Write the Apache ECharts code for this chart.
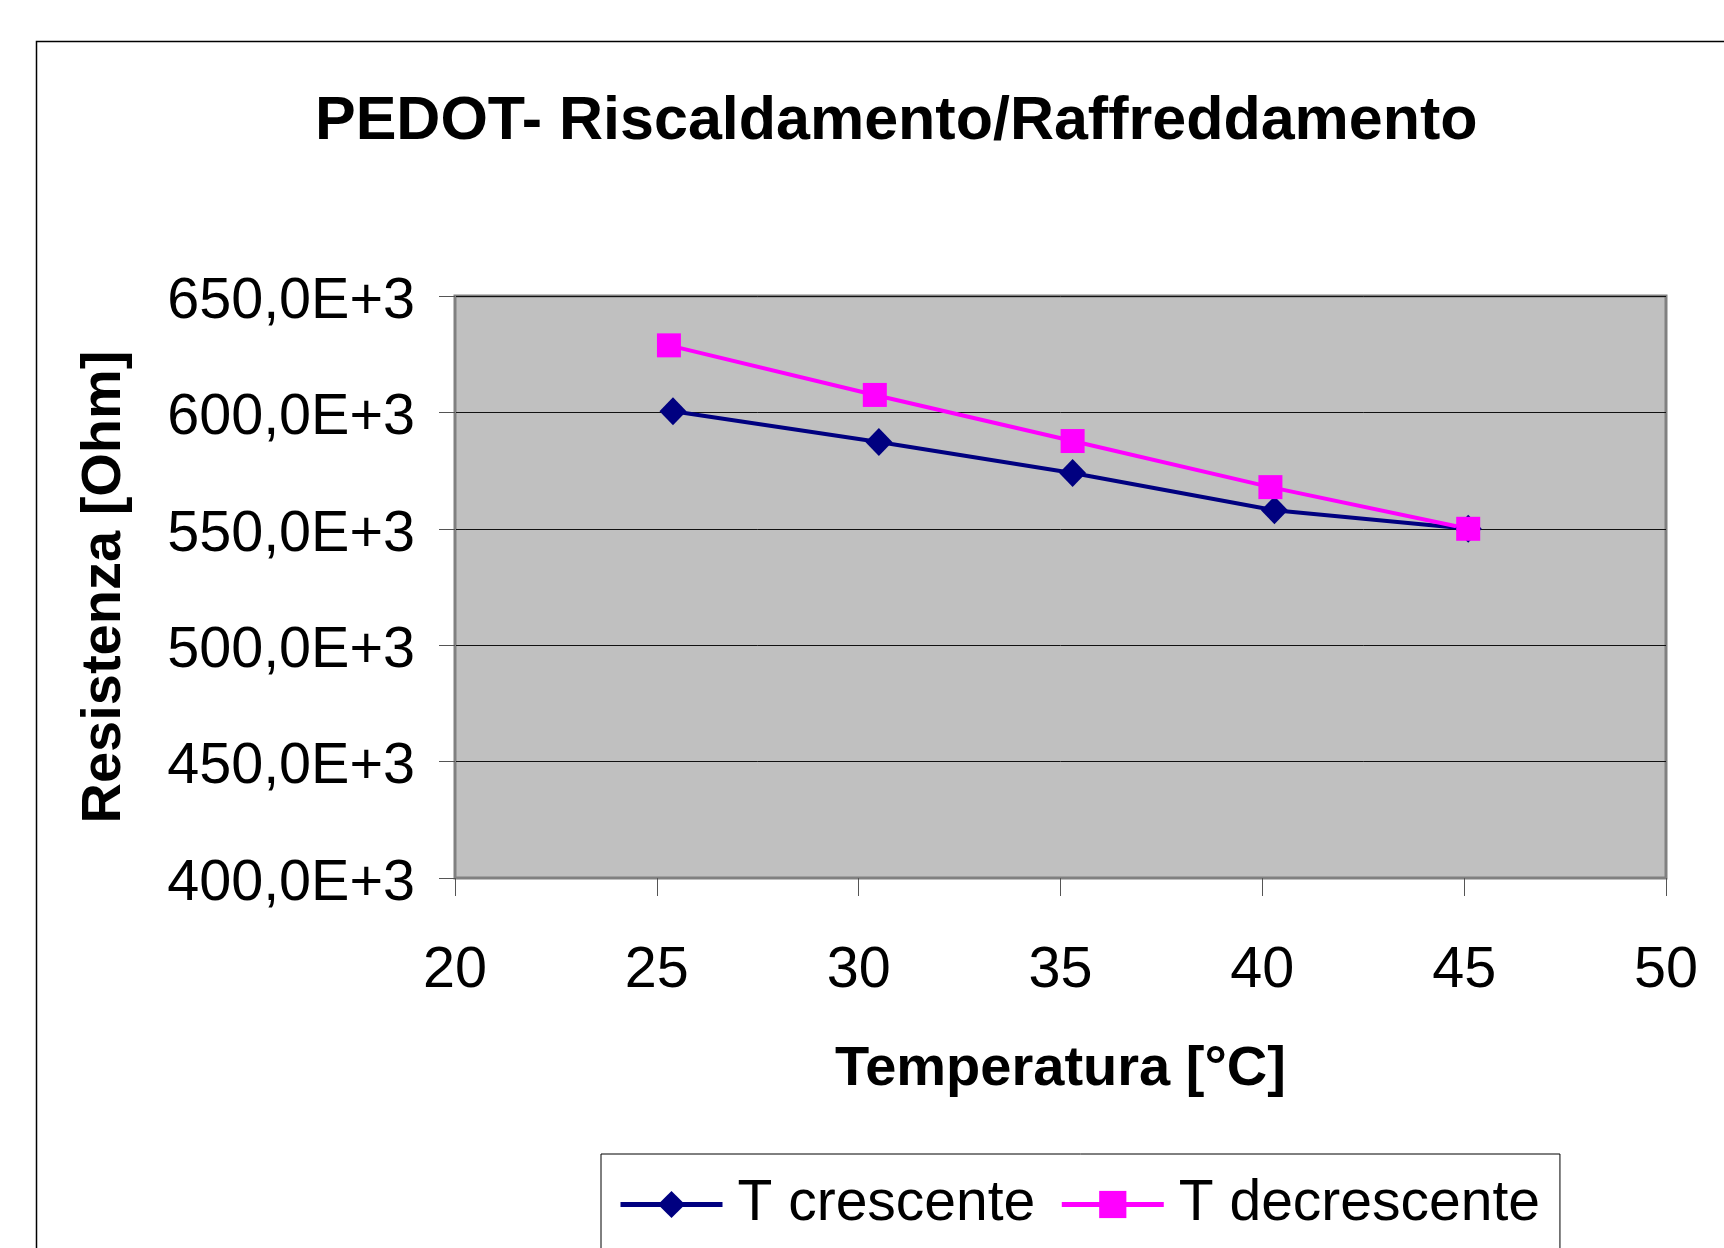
<!DOCTYPE html>
<html>
<head>
<meta charset="utf-8">
<style>html,body{margin:0;padding:0;background:#fff;}#c{width:1724px;height:1248px;}</style>
<script src="https://cdn.jsdelivr.net/npm/echarts@6/dist/echarts.min.js"></script>
</head>
<body>
<div id="c"></div>
<script>
var titleText = 'PEDOT- Riscaldamento/Raffreddamento';
var xName = 'Temperatura [°C]';
var yName = 'Resistenza [Ohm]';
var seriesNames = ['T crescente', 'T decrescente'];
var tempCrescente = [25.4, 30.5, 35.3, 40.3, 45.1];
var resCrescente = [600500, 587300, 574000, 558000, 550000];
var tempDecrescente = [25.3, 30.4, 35.3, 40.2, 45.1];
var resDecrescente = [628800, 607500, 587700, 567900, 550000];
var xTicks = [20, 25, 30, 35, 40, 45, 50];
var yTicks = [400000, 450000, 500000, 550000, 600000, 650000];
var yTickLabels = ['400,0E+3', '450,0E+3', '500,0E+3', '550,0E+3', '600,0E+3', '650,0E+3'];

function pairs(xs, ys) { return xs.map(function (x, i) { return [x, ys[i]]; }); }
var FONT = '"Liberation Sans", Arial, sans-serif';

var chart = echarts.init(document.getElementById('c'));
chart.setOption({
  backgroundColor: '#ffffff',
  animation: false,
  graphic: [{
    type: 'rect', left: 34, top: 39, z: -10,
    shape: { width: 1760, height: 1300 },
    style: { fill: 'none', stroke: '#000', lineWidth: 1.5 }
  }],
  title: {
    text: titleText, left: 310, top: 87,
    textStyle: { fontFamily: FONT, fontSize: 61, fontWeight: 'bold', color: '#000' }
  },
  grid: {
    left: 455, right: 58, top: 296, bottom: 370,
    show: true, backgroundColor: '#c0c0c0', borderColor: '#808080', borderWidth: 3
  },
  legend: {
    data: seriesNames, left: 601, top: 1154,
    padding: [22, 20, 60, 17], itemGap: 24, itemWidth: 102, itemHeight: 34,
    borderColor: '#000', borderWidth: 1, backgroundColor: '#fff',
    lineStyle: { width: 5 },
    textStyle: { fontFamily: FONT, fontSize: 57, color: '#000', padding: [0, 0, 0, 10] }
  },
  xAxis: {
    type: 'value', min: xTicks[0], max: xTicks[xTicks.length - 1], interval: 5,
    name: xName, nameLocation: 'middle', nameGap: 164,
    nameTextStyle: { fontFamily: FONT, fontSize: 56, fontWeight: 'bold', color: '#000' },
    axisLine: { show: true, lineStyle: { color: '#808080', width: 2 } },
    axisTick: { show: true, length: 18, lineStyle: { color: '#555', width: 1 } },
    splitLine: { show: false },
    axisLabel: { fontFamily: FONT, fontSize: 57.5, color: '#000', margin: 64 }
  },
  yAxis: {
    type: 'value', min: yTicks[0], max: yTicks[yTicks.length - 1], interval: 50000,
    name: yName, nameLocation: 'middle', nameGap: 322, nameRotate: 90,
    nameTextStyle: { fontFamily: FONT, fontSize: 56, fontWeight: 'bold', color: '#000' },
    axisLine: { show: true, lineStyle: { color: '#808080', width: 2 } },
    axisTick: { show: true, length: 16, lineStyle: { color: '#555', width: 1 } },
    splitLine: { show: true, lineStyle: { color: '#111', width: 1 } },
    axisLabel: {
      color: '#000', margin: 40,
      formatter: function (v) { var i = yTicks.indexOf(v); return i >= 0 ? '{a|' + yTickLabels[i] + '}' : ''; },
      rich: { a: { fontFamily: FONT, fontSize: 57.5, color: '#000', padding: [12, 0, 0, 0] } }
    }
  },
  series: [{
    name: seriesNames[0], type: 'line', data: pairs(tempCrescente, resCrescente),
    symbol: 'diamond', symbolSize: [27, 28],
    lineStyle: { color: '#000080', width: 4 }, itemStyle: { color: '#000080' }
  }, {
    name: seriesNames[1], type: 'line', data: pairs(tempDecrescente, resDecrescente),
    symbol: 'rect', symbolSize: 24,
    lineStyle: { color: '#ff00ff', width: 4 }, itemStyle: { color: '#ff00ff' }
  }]
});
</script>
</body>
</html>
